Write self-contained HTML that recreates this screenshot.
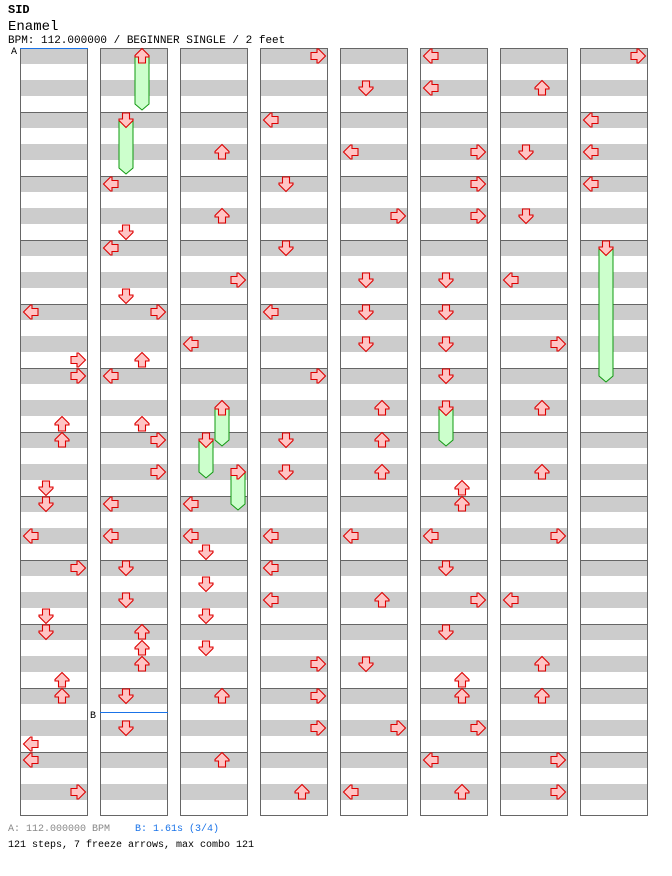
<!DOCTYPE html>
<html><head><meta charset="utf-8"><style>
body{margin:0;background:#fff;width:672px;height:876px;overflow:hidden;font-family:"Liberation Mono","DejaVu Sans Mono",monospace}
.t{position:absolute;white-space:pre;color:#000}
</style></head><body>
<div class="t" style="left:8px;top:3px;font-size:12px;font-weight:bold">SID</div>
<div class="t" style="left:8px;top:19px;font-size:14px">Enamel</div>
<div class="t" style="left:8px;top:35px;font-size:11px">BPM: 112.000000 / BEGINNER SINGLE / 2 feet</div>
<div class="t" style="left:11px;top:47px;font-size:10px">A</div>
<div class="t" style="left:90px;top:711px;font-size:10px">B</div>
<div class="t" style="left:8px;top:824px;font-size:10px;color:#888">A: 112.000000 BPM</div>
<div class="t" style="left:135px;top:824px;font-size:10px;color:#1a73e8">B: 1.61s (3/4)</div>
<div class="t" style="left:8px;top:840px;font-size:10px">121 steps, 7 freeze arrows, max combo 121</div>
<svg id="s" width="672" height="876" style="position:absolute;left:0;top:0"></svg>
<script>
var s='';
for(var c=0;c<8;c++){var x=20+c*80;
for(var m=0;m<12;m++){var y=48+m*64;
s+='<rect x="'+x+'" y="'+y+'" width="68" height="16" fill="#cccccc"/><rect x="'+x+'" y="'+(y+32)+'" width="68" height="16" fill="#cccccc"/>';
s+='<line x1="'+x+'" y1="'+(y+.5)+'" x2="'+(x+68)+'" y2="'+(y+.5)+'" stroke="#666"/>';}
s+='<rect x="'+(x+.5)+'" y="48.5" width="67" height="767" fill="none" stroke="#666"/>';}
s+='<line x1="20" y1="48.5" x2="88" y2="48.5" stroke="#1a73e8"/><line x1="100" y1="712.5" x2="168" y2="712.5" stroke="#1a73e8"/>';
var off={L:11,D:26,U:42,R:58},rot={U:0,R:90,D:180,L:270};
function fr(c,l,y1,y2){var cx=20+c*80+off[l];
s+='<polygon points="'+(cx-7)+','+y1+' '+(cx+7)+','+y1+' '+(cx+7)+','+(y2-6)+' '+cx+','+y2+' '+(cx-7)+','+(y2-6)+'" fill="#ccffcc" stroke="#119911"/>';}
function ar(c,l,y){var cx=20+c*80+off[l];
s+='<g transform="translate('+cx+','+y+') rotate('+rot[l]+')"><polygon points="0,-7.5 7,-0.5 7,1 3.5,1 3.5,7 -3.5,7 -3.5,1 -7,1 -7,-0.5" fill="#ffc4c4" stroke="#dd0000" stroke-width="1.1"/></g>';}
var F=[[1,'U',56,110],[1,'D',120,174],[2,'U',408,446],[2,'D',440,478],[2,'R',472,510],[5,'D',408,446],[7,'D',248,382]];
F.forEach(function(f){fr.apply(null,f)});
var A={
0:'L312 R360 R376 U424 U440 D488 D504 L536 R568 D616 D632 U680 U696 L744 L760 R792',
1:'U56 D120 L184 D232 L248 D296 R312 U360 L376 U424 R440 R472 L504 L536 D568 D600 U632 U648 U664 D696 D728',
2:'U152 U216 R280 L344 U408 D440 R472 L504 L536 D552 D584 D616 D648 U696 U760',
3:'R56 L120 D184 D248 L312 R376 D440 D472 L536 L568 L600 R664 R696 R728 U792',
4:'D88 L152 R216 D280 D312 D344 U408 U440 U472 L536 U600 D664 R728 L792',
5:'L56 L88 R152 R184 R216 D280 D312 D344 D376 D408 U488 U504 L536 D568 R600 D632 U680 U696 R728 L760 U792',
6:'U88 D152 D216 L280 R344 U408 U472 R536 L600 U664 U696 R760 R792',
7:'R56 L120 L152 L184 D248'};
for(var c in A)A[c].split(' ').forEach(function(t){ar(+c,t[0],+t.slice(1))});
document.getElementById('s').innerHTML=s;
</script>
</body></html>
